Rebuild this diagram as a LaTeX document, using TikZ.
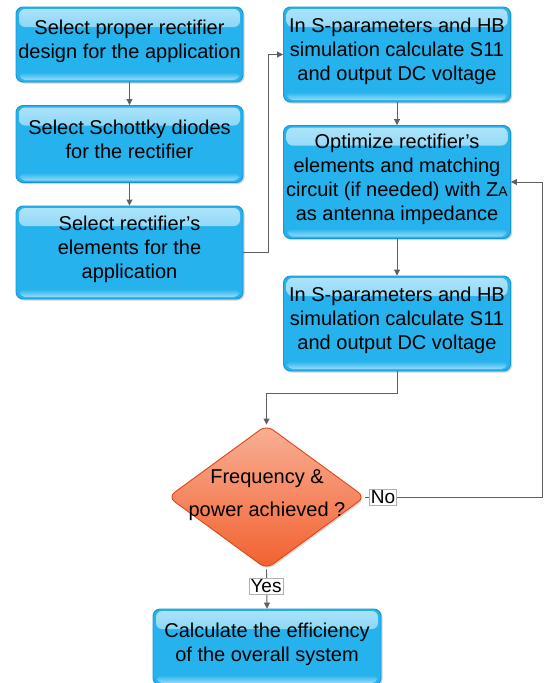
\documentclass[tikz,border=0pt]{standalone}
\usepackage{fontspec}
\setmainfont{Liberation Sans}
\usetikzlibrary{shapes.geometric,arrows.meta,shadows}
\definecolor{boxfill}{RGB}{38,178,236}
\definecolor{boxedge}{RGB}{20,150,215}
\definecolor{boxlight}{RGB}{175,228,250}
\definecolor{dfill}{RGB}{242,96,46}
\definecolor{dedge}{RGB}{222,70,25}
\definecolor{conn}{RGB}{95,95,95}
\begin{document}
\begin{tikzpicture}[x=1pt,y=-1pt,
  boxstyle/.style={rounded corners=7pt, draw=boxedge, line width=0.9pt, fill=boxfill,
    align=center, inner sep=2pt, font=\fontsize{20}{24}\selectfont, text depth=10pt,
    drop shadow={shadow xshift=1.5pt,shadow yshift=-1.5pt,opacity=0.35},
    path picture={
      \shade[top color=boxlight, bottom color=boxfill, rounded corners=6pt]
        ([xshift=3pt,yshift=-2pt]path picture bounding box.north west) rectangle
        ([xshift=-3pt,yshift=-20pt]path picture bounding box.north east);
      \shade[top color=boxfill, bottom color=boxlight!80!boxfill, rounded corners=5pt]
        ([xshift=4pt,yshift=10pt]path picture bounding box.south west) rectangle
        ([xshift=-4pt,yshift=2pt]path picture bounding box.south east);
    }},
  dstyle/.style={shape=diamond, rounded corners=8pt, draw=dedge, line width=0.9pt,
    inner sep=0pt, minimum width=197pt, minimum height=144pt,
    drop shadow={shadow xshift=1.5pt,shadow yshift=-1.5pt,opacity=0.3},
    top color=dfill!50!white, middle color=dfill!85!white, bottom color=dfill},
  conn/.style={draw=conn, line width=0.9pt, -{Triangle[width=6pt,length=6pt]}},
  lbl/.style={draw=conn!50, line width=0.5pt, fill=white, inner sep=1.5pt, font=\fontsize{19}{22}\selectfont}
]
\useasboundingbox (0,0) rectangle (545,683);
\begin{scope}
\clip (0,0) rectangle (545,683);
\node[boxstyle, minimum width=227pt, minimum height=75pt] (b1) at (129.5,44.5)
  {Select proper rectifier\\design for the application};
\node[boxstyle, minimum width=227pt, minimum height=77pt] (b2) at (129.5,144)
  {Select Schottky diodes\\for the rectifier};
\node[boxstyle, minimum width=227pt, minimum height=93pt] (b3) at (129.5,252.5)
  {Select rectifier’s\\elements for the\\application};
\node[boxstyle, minimum width=227pt, minimum height=95pt] (b4) at (397,54.5)
  {In S-parameters and HB\\simulation calculate S11\\and output DC voltage};
\node[boxstyle, minimum width=227pt, minimum height=113pt] (b5) at (397,182)
  {Optimize rectifier’s\\elements and matching\\circuit (if needed) with Z{\fontsize{14}{14}\selectfont A}\\as antenna impedance};
\node[boxstyle, minimum width=227pt, minimum height=95pt] (b6) at (397,323.5)
  {In S-parameters and HB\\simulation calculate S11\\and output DC voltage};
\node[dstyle] (d) at (266.5,497) {};
\node[font=\fontsize{20}{24}\selectfont, align=center] (dt) at (267,495)
  {Frequency \&\\[9pt]power achieved ?};
\node[boxstyle, minimum width=228pt, minimum height=76pt] (b7) at (267,647)
  {Calculate the efficiency\\of the overall system};

\draw[conn] (b1) -- (b2);
\draw[conn] (b2) -- (b3);
\draw[conn] (b3.east) -- ++(25,0) coordinate (c1) |- (b4.west);
\draw[conn] (b4) -- (b5);
\draw[conn] (b5) -- (b6);
\draw[conn] (b6.south) -- ++(0,22) coordinate (c2) -| (d.north);
\coordinate (c3) at (542,497);
\draw[conn] (d.east) -- (c3) |- (b5.east);
\node[lbl] (no) at (383,497) {No};
\draw[conn] (d.south) -- (b7.north);
\node[lbl] (yes) at (266,586.5) {Yes};
\end{scope}
\end{tikzpicture}
\end{document}
